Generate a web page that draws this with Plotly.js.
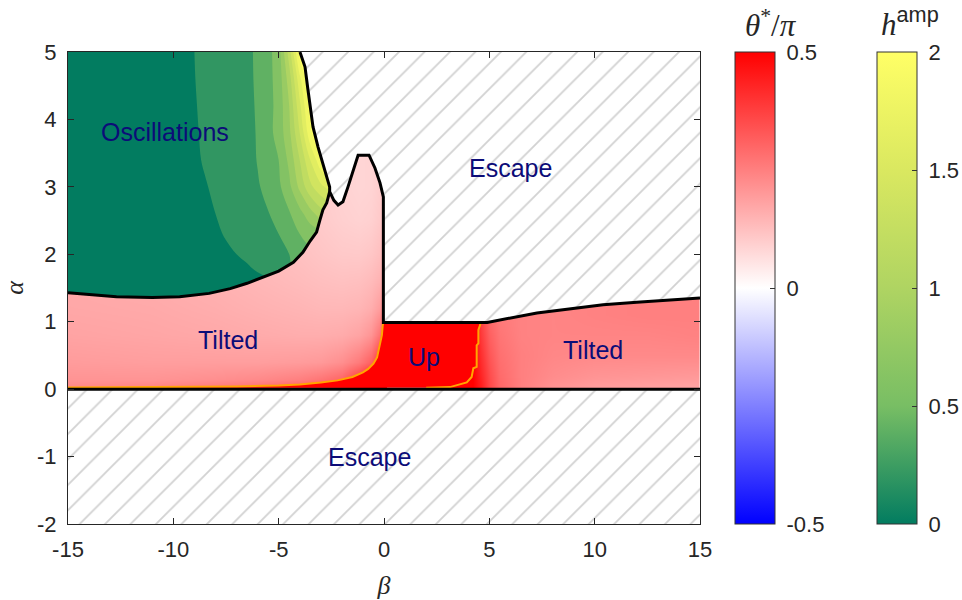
<!DOCTYPE html>
<html><head><meta charset="utf-8">
<script src="https://cdn.plot.ly/plotly-3.0.1.min.js"></script>
<style>html,body{margin:0;padding:0;background:#fff}#chart{width:962px;height:600px}</style>
</head><body><div id="chart"></div>
<script>
// ---------- theta*/pi field, left "Tilted" region ----------
const thetaLeftBeta  = [-15, -11, -8, -6, -4, -3, -2, -1.2, -0.6, -0.25, 0];
const thetaLeftAlpha = [0, 0.15, 0.4, 0.8, 1.2, 1.6, 2.0, 2.5, 3.0, 3.5];
const thetaLeft = [
  [0.24, 0.25, 0.27, 0.29, 0.33, 0.37, 0.42, 0.48, 0.5, 0.5, 0.5],
  [0.21, 0.21, 0.22, 0.23, 0.25, 0.27, 0.30, 0.38, 0.46, 0.5, 0.5],
  [0.195, 0.19, 0.19, 0.19, 0.195, 0.20, 0.22, 0.26, 0.31, 0.40, 0.48],
  [0.18, 0.175, 0.17, 0.165, 0.16, 0.16, 0.165, 0.18, 0.21, 0.27, 0.36],
  [0.172, 0.168, 0.16, 0.152, 0.145, 0.14, 0.14, 0.145, 0.16, 0.19, 0.24],
  [0.168, 0.162, 0.152, 0.142, 0.132, 0.126, 0.122, 0.125, 0.135, 0.15, 0.175],
  [0.165, 0.158, 0.147, 0.135, 0.122, 0.113, 0.106, 0.105, 0.112, 0.125, 0.145],
  [0.162, 0.155, 0.143, 0.128, 0.113, 0.103, 0.093, 0.088, 0.092, 0.105, 0.12],
  [0.16, 0.152, 0.14, 0.125, 0.108, 0.098, 0.088, 0.082, 0.085, 0.097, 0.11],
  [0.16, 0.152, 0.14, 0.125, 0.108, 0.098, 0.088, 0.082, 0.085, 0.097, 0.11]
];
// ---------- theta*/pi field, right "Tilted" region ----------
const thetaRightBeta  = [3.0, 4.2, 4.6, 5.0, 5.5, 6.5, 8, 10, 12.5, 15];
const thetaRightAlpha = [0, 0.2, 0.5, 0.8, 1.1, 1.4];
const thetaRight = [
  [0.5, 0.5, 0.45, 0.36, 0.30, 0.25, 0.21, 0.19, 0.18, 0.175],
  [0.5, 0.5, 0.43, 0.35, 0.29, 0.25, 0.225, 0.21, 0.205, 0.20],
  [0.5, 0.5, 0.41, 0.33, 0.28, 0.25, 0.235, 0.23, 0.23, 0.23],
  [0.5, 0.5, 0.39, 0.31, 0.27, 0.245, 0.24, 0.24, 0.24, 0.245],
  [0.5, 0.5, 0.37, 0.29, 0.26, 0.245, 0.24, 0.245, 0.25, 0.25],
  [0.5, 0.5, 0.36, 0.28, 0.255, 0.245, 0.24, 0.245, 0.25, 0.25]
];
// ---------- h^amp field, "Oscillations" region ----------
const hampBeta  = [-15, -9.6, -9.0, -8.5, -8.0, -7.5, -7.0, -6.5, -6.0, -5.5, -5.0, -4.5, -4.0, -3.5, -3.0, -2.5];
const hampAlpha = [1.3, 1.6, 1.8, 2.0, 2.3, 2.6, 3.0, 3.4, 3.8, 4.2, 4.6, 5.0];
const hamp = [
  [0, 0, 0, 0, 0, 0, 0, 0, 0, 0, 0, 0, 0, 0, 0, 0],
  [0, 0, 0, 0, 0, 0, 0, 0, 0.02, 0.06, 0.1, 0.1, 0.1, 0.1, 0.1, 0.1],
  [0, 0, 0, 0, 0, 0, 0.02, 0.07, 0.14, 0.2, 0.24, 0.28, 0.35, 0.4, 0.4, 0.4],
  [0, 0, 0, 0, 0, 0.03, 0.1, 0.16, 0.2, 0.23, 0.27, 0.3, 0.42, 0.45, 0.45, 0.45],
  [0, 0, 0, 0, 0.04, 0.13, 0.18, 0.2, 0.22, 0.25, 0.3, 0.4, 0.5, 0.58, 0.62, 0.65],
  [0, 0, 0, 0, 0.1, 0.17, 0.2, 0.21, 0.23, 0.29, 0.38, 0.48, 0.63, 0.82, 1.0, 1.1],
  [0, 0, 0, 0.07, 0.17, 0.2, 0.21, 0.24, 0.28, 0.36, 0.46, 0.65, 0.95, 1.25, 1.45, 1.6],
  [0, 0, 0.03, 0.14, 0.2, 0.2, 0.21, 0.22, 0.31, 0.42, 0.5, 0.75, 1.1, 1.5, 1.85, 2.0],
  [0, 0, 0.05, 0.17, 0.2, 0.2, 0.21, 0.22, 0.32, 0.43, 0.58, 0.85, 1.3, 1.85, 2.2, 2.2],
  [0, 0, 0.07, 0.19, 0.2, 0.2, 0.21, 0.23, 0.33, 0.43, 0.57, 0.9, 1.45, 2.0, 2.3, 2.3],
  [0, 0, 0.09, 0.2, 0.2, 0.2, 0.21, 0.24, 0.34, 0.44, 0.58, 1.0, 1.65, 2.1, 2.3, 2.3],
  [0, 0, 0.1, 0.2, 0.2, 0.2, 0.21, 0.25, 0.34, 0.44, 0.6, 1.2, 2.0, 2.3, 2.3, 2.3]
];
// ---------- region boundaries (beta, alpha) ----------
const oscRightBeta  = [-3.99, -3.75, -3.61, -3.51, -3.37, -3.13, -2.80, -2.58, -2.58];
const oscRightAlpha = [5.0, 4.78, 4.44, 4.18, 3.89, 3.59, 3.25, 3.0, 2.93];
const oscLowBeta  = [-15, -14, -12.7, -11, -9.7, -8.3, -7.3, -6.5, -5.7, -5.0, -4.3, -3.85, -3.5, -3.2, -3.05, -2.9, -2.72, -2.62, -2.58];
const oscLowAlpha = [1.43, 1.40, 1.37, 1.36, 1.37, 1.42, 1.49, 1.57, 1.66, 1.75, 1.88, 2.03, 2.20, 2.33, 2.50, 2.66, 2.76, 2.88, 2.93];
const peakBeta  = [-2.38, -2.18, -1.95, -1.71, -1.38, -1.23, -0.71, -0.43, -0.19, -0.09, -0.03, -0.03];
const peakAlpha = [2.80, 2.73, 2.78, 3.00, 3.32, 3.47, 3.47, 3.28, 3.06, 2.91, 2.85, 0.99];
const stableTopBeta  = [4.9, 7.26, 10.4, 12.0, 15];
const stableTopAlpha = [0.99, 1.13, 1.25, 1.29, 1.35];
const upLeftBeta  = [-15, -10, -7, -5, -4, -3, -2.2, -1.5, -1.0, -0.75, -0.5, -0.33, -0.2, -0.1, -0.06, -0.03];
const upLeftAlpha = [0.025, 0.03, 0.04, 0.055, 0.07, 0.1, 0.13, 0.18, 0.25, 0.3, 0.38, 0.47, 0.65, 0.8, 0.95, 0.99];
const upRightBeta  = [4.58, 4.56, 4.48, 4.48, 4.40, 4.40, 4.24, 4.16, 3.93, 3.13, 2.0];
const upRightAlpha = [0.99, 0.95, 0.88, 0.68, 0.65, 0.33, 0.31, 0.18, 0.10, 0.03, 0.02];
const escLowBeta  = [-15, 15, 15, -15];
const escLowAlpha = [0, 0, -2, -2];
const baseBeta  = [-15, 15];
const baseAlpha = [0, 0];
// ---------- ticks and labels ----------
const betaTicks  = [-15, -10, -5, 0, 5, 10, 15];
const alphaTicks = [-2, -1, 0, 1, 2, 3, 4, 5];
const thetaTicks = [-0.5, 0, 0.5];
const hampTicks  = [0, 0.5, 1, 1.5, 2];
const regionNames = ['Oscillations', 'Escape', 'Tilted', 'Up', 'Tilted', 'Escape'];
const regionBeta  = [-10.4, 6.0, -7.4, 1.9, 9.9, -0.7];
const regionAlpha = [3.81, 3.28, 0.73, 0.47, 0.58, -1.0];
const thetaTitle = '<i>θ</i><sup>*</sup>/<i>π</i>';
const hampTitle  = '<i>h</i><sup><span style="font-family:Liberation Sans;font-style:normal">amp</span></sup>';

// ---------- styling ----------
const INK = '#262626';
const thetaScale = [[0, 'rgb(0,0,255)'], [0.5, 'rgb(255,255,255)'], [1, 'rgb(255,0,0)']];
const hampScale = [[0, 'rgb(2,124,96)'], [0.25, 'rgb(120,190,100)'], [0.5, 'rgb(175,212,98)'], [0.75, 'rgb(218,232,96)'], [1, 'rgb(255,255,102)']];
const tickFont = {family: 'Liberation Sans, Arial, sans-serif', size: 22, color: INK};
const hatch = {shape: '/', bgcolor: 'white', fgcolor: '#d2d2d2', size: 18, solidity: 0.1};
const W = 962, PL = 68, PR = 700;

const topLineBeta  = oscRightBeta.concat(peakBeta, stableTopBeta);
const topLineAlpha = oscRightAlpha.concat(peakAlpha, stableTopAlpha);

function cbar(xPx, tickvals) {
  return {
    x: xPx / W, xref: 'container', xanchor: 'left', y: 0.5, yref: 'paper', yanchor: 'middle',
    len: 1, lenmode: 'fraction', thickness: 40, thicknessmode: 'pixels', xpad: 0, ypad: 0,
    outlinewidth: 1, outlinecolor: '#333',
    ticks: 'inside', ticklen: 5, tickcolor: '#333',
    tickvals: tickvals, ticktext: tickvals.map(v => '\u00a0' + String(v)), tickfont: tickFont
  };
}

const data = [
  {type: 'heatmap', uid: 'thetaLeft', x: thetaLeftBeta, y: thetaLeftAlpha, z: thetaLeft,
   colorscale: thetaScale, zmin: -0.5, zmax: 0.5, zsmooth: 'best', hoverinfo: 'skip',
   showscale: true, colorbar: cbar(735, thetaTicks)},
  {type: 'heatmap', uid: 'thetaRight', x: thetaRightBeta, y: thetaRightAlpha, z: thetaRight,
   colorscale: thetaScale, zmin: -0.5, zmax: 0.5, zsmooth: 'best', hoverinfo: 'skip', showscale: false},
  {type: 'heatmap', uid: 'hampMap', x: hampBeta, y: hampAlpha, z: hamp,
   colorscale: hampScale, zmin: 0, zmax: 2, zsmooth: 'best', hoverinfo: 'skip',
   showscale: true, colorbar: cbar(877, hampTicks)},
  {type: 'contour', uid: 'hampContour', x: hampBeta, y: hampAlpha, z: hamp,
   colorscale: hampScale, autocontour: false,
   contours: {start: 0.1, end: 1.9, size: 0.2, coloring: 'fill', showlines: false},
   line: {width: 0}, showscale: false, hoverinfo: 'skip'},
  {type: 'scatter', x: upLeftBeta.concat(upRightBeta), y: upLeftAlpha.concat(upRightAlpha),
   mode: 'none', fill: 'toself', fillcolor: 'rgb(255,0,0)', hoverinfo: 'skip'},
  {type: 'scatter', x: [15].concat(topLineBeta), y: [5].concat(topLineAlpha),
   mode: 'none', fill: 'toself', fillcolor: 'white', fillpattern: hatch, hoverinfo: 'skip'},
  {type: 'scatter', x: escLowBeta, y: escLowAlpha,
   mode: 'none', fill: 'toself', fillcolor: 'white', fillpattern: hatch, hoverinfo: 'skip'},
  {type: 'scatter', x: upLeftBeta, y: upLeftAlpha, mode: 'lines',
   line: {color: 'rgb(255,165,0)', width: 2}, hoverinfo: 'skip'},
  {type: 'scatter', x: upRightBeta, y: upRightAlpha, mode: 'lines',
   line: {color: 'rgb(255,165,0)', width: 2}, hoverinfo: 'skip'},
  {type: 'scatter', x: topLineBeta, y: topLineAlpha, mode: 'lines',
   line: {color: 'black', width: 3}, hoverinfo: 'skip'},
  {type: 'scatter', x: oscLowBeta, y: oscLowAlpha, mode: 'lines',
   line: {color: 'black', width: 3}, hoverinfo: 'skip'},
  {type: 'scatter', x: baseBeta, y: baseAlpha, mode: 'lines',
   line: {color: 'black', width: 3}, hoverinfo: 'skip'}
];

const annotations = regionNames.map((t, i) => ({
  x: regionBeta[i], y: regionAlpha[i], xref: 'x', yref: 'y', text: t, showarrow: false,
  font: {family: 'Liberation Sans, Arial, sans-serif', size: 25, color: 'rgb(12,12,120)'}
}));
const pw = PR - PL;
annotations.push({
  x: (771 - PL) / pw, y: 1 + 28 / 472, xref: 'paper', yref: 'paper', xanchor: 'center', yanchor: 'middle',
  text: thetaTitle, showarrow: false, font: {family: 'Liberation Serif, serif', size: 31, color: INK}
});
annotations.push({
  x: (910 - PL) / pw, y: 1 + 30 / 472, xref: 'paper', yref: 'paper', xanchor: 'center', yanchor: 'middle',
  text: hampTitle, showarrow: false, font: {family: 'Liberation Serif, serif', size: 31, color: INK}
});

const layout = {
  width: 962, height: 600,
  margin: {l: PL, r: W - PR, t: 52, b: 76, pad: 0},
  paper_bgcolor: 'white', plot_bgcolor: 'white',
  showlegend: false, hovermode: false,
  xaxis: {range: [-15, 15], tickvals: betaTicks, ticktext: betaTicks.map(String),
    ticks: 'inside', ticklen: 6, tickcolor: INK, showline: true, linecolor: INK, linewidth: 1,
    mirror: 'ticks', showgrid: false, zeroline: false, tickfont: tickFont, ticklabelstandoff: 6,
    automargin: false,
    title: {text: '<i>β</i>', font: {family: 'Liberation Serif, serif', size: 26, color: INK}, standoff: 14}},
  yaxis: {range: [-2, 5], tickvals: alphaTicks, ticktext: alphaTicks.map(String),
    ticks: 'inside', ticklen: 6, tickcolor: INK, showline: true, linecolor: INK, linewidth: 1,
    mirror: 'ticks', showgrid: false, zeroline: false, tickfont: tickFont, ticklabelstandoff: 6,
    automargin: false,
    title: {text: '<i>α</i>', font: {family: 'Liberation Serif, serif', size: 26, color: INK}, standoff: 10}},
  annotations: annotations
};

const gd = document.getElementById('chart');

function clipOscillations() {
  const fl = gd._fullLayout;
  if (!fl || !fl.xaxis) return;
  const xa = fl.xaxis, ya = fl.yaxis;
  const bx = [-15].concat(oscRightBeta, oscLowBeta.slice().reverse());
  const by = [5].concat(oscRightAlpha, oscLowAlpha.slice().reverse());
  const pts = bx.map((b, i) => xa.l2p(b).toFixed(2) + ',' + ya.l2p(by[i]).toFixed(2)).join(' ');
  const NS = 'http://www.w3.org/2000/svg';
  const svg = gd.querySelector('svg.main-svg');
  let defs = svg.querySelector('defs');
  if (!defs) { defs = document.createElementNS(NS, 'defs'); svg.insertBefore(defs, svg.firstChild); }
  let cp = svg.querySelector('#oscClip');
  if (!cp) { cp = document.createElementNS(NS, 'clipPath'); cp.setAttribute('id', 'oscClip'); defs.appendChild(cp); }
  while (cp.firstChild) cp.removeChild(cp.firstChild);
  const poly = document.createElementNS(NS, 'polygon');
  poly.setAttribute('points', pts);
  cp.appendChild(poly);
  gd.querySelectorAll('g.hm, g.contour').forEach(el => {
    const d = el.__data__;
    const t = d && d[0] && d[0].trace;
    if (t && (t.uid === 'hampMap' || t.uid === 'hampContour')) el.setAttribute('clip-path', 'url(#oscClip)');
  });
}

Plotly.newPlot(gd, data, layout, {staticPlot: true, displayModeBar: false}).then(() => {
  clipOscillations();
  gd.on('plotly_afterplot', clipOscillations);
});
</script></body></html>
